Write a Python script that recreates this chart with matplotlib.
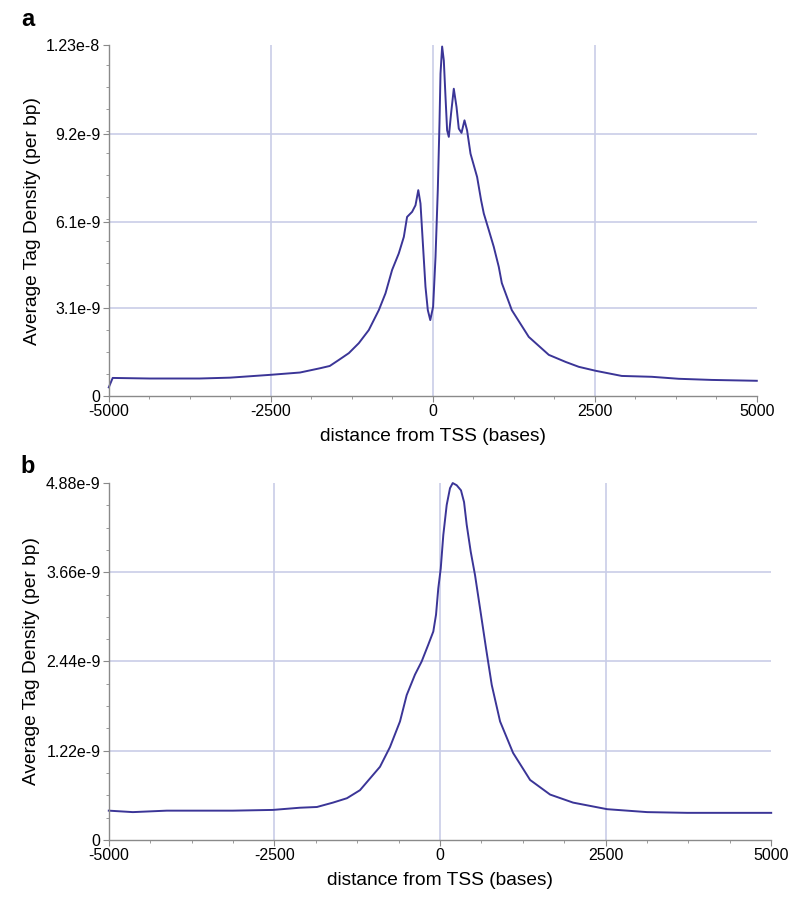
import numpy as np
import matplotlib
matplotlib.use('Agg')
import matplotlib.pyplot as plt
from matplotlib.ticker import FixedLocator, MultipleLocator

plt.rcParams['font.family'] = ['Liberation Sans', 'DejaVu Sans']

# Panel a : distance from TSS (bases) / density (x1e-9 per bp)
dist_a = [-5000, -4940, -4370, -3600, -3130, -2500, -2050, -1740, -1590, -1451,
          -1296, -1142, -988, -833, -730, -628, -525, -447, -397, -319,
          -267, -224, -190, -150, -113, -77, -39, 5, 42, 77,
          103, 119, 144, 170, 196, 221, 247, 282, 324, 366,
          401, 443, 489, 529, 582, 633, 684, 745, 787, 864,
          941, 1018, 1065, 1219, 1481, 1790, 2052, 2253, 2515, 2916,
          3379, 3796, 4305, 5000]
dens_a = [0.30, 0.63, 0.61, 0.61, 0.64, 0.74, 0.82, 0.97, 1.05, 1.26,
          1.50, 1.85, 2.31, 3.01, 3.60, 4.42, 5.00, 5.58, 6.28, 6.46,
          6.69, 7.22, 6.75, 5.23, 3.83, 3.01, 2.66, 3.13, 4.88, 7.22,
          9.56, 11.31, 12.26, 11.77, 10.49, 9.32, 9.09, 9.91, 10.78, 10.14,
          9.38, 9.23, 9.67, 9.32, 8.50, 8.09, 7.68, 6.87, 6.40, 5.82,
          5.23, 4.53, 3.96, 3.01, 2.07, 1.44, 1.19, 1.02, 0.88, 0.70,
          0.67, 0.60, 0.56, 0.53]

# Panel b
dist_b = [-5000, -4637, -4124, -3625, -3127, -2523, -2115, -1858, -1616, -1405,
          -1208, -906, -755, -604, -503, -378, -277, -177, -101, -60,
          -26, 11, 50, 101, 151, 192, 252, 317, 363, 403,
          464, 529, 604, 695, 781, 907, 1103, 1360, 1662, 2009,
          2523, 3127, 3731, 4381, 5000]
dens_b = [0.40, 0.38, 0.40, 0.40, 0.40, 0.41, 0.44, 0.45, 0.51, 0.57,
          0.68, 1.00, 1.27, 1.62, 1.98, 2.26, 2.44, 2.67, 2.85, 3.08,
          3.44, 3.71, 4.17, 4.58, 4.81, 4.88, 4.85, 4.78, 4.62, 4.31,
          3.94, 3.62, 3.17, 2.62, 2.12, 1.62, 1.19, 0.82, 0.62, 0.51,
          0.42, 0.38, 0.37, 0.37, 0.37]

yticks_a = [0, 3.1, 6.1, 9.2, 12.3]
ylabels_a = ['0', '3.1e-9', '6.1e-9', '9.2e-9', '1.23e-8']
yticks_b = [0, 1.22, 2.44, 3.66, 4.88]
ylabels_b = ['0', '1.22e-9', '2.44e-9', '3.66e-9', '4.88e-9']
xticks = [-5000, -2500, 0, 2500, 5000]

line_col = '#3b3597'
grid_col = '#c9cde8'
spine_col = '#8a8a8a'

fig = plt.figure(figsize=(8, 9.08), dpi=100)
ax_a = fig.add_axes([0.136, 0.564, 0.810, 0.386])
ax_b = fig.add_axes([0.136, 0.075, 0.828, 0.393])


def style(ax, yt, yl):
    ax.set_xlim(-5000, 5000)
    ax.set_ylim(0, yt[-1])
    ax.xaxis.set_major_locator(FixedLocator(xticks))
    ax.xaxis.set_minor_locator(MultipleLocator(625))
    ax.set_xticklabels([str(t) for t in xticks])
    ax.yaxis.set_major_locator(FixedLocator(yt))
    ax.yaxis.set_minor_locator(MultipleLocator(yt[1] / 4))
    ax.set_yticklabels(yl)
    for t in xticks[1:-1]:
        ax.axvline(t, color=grid_col, lw=1.2, zorder=0)
    for t in yt[1:-1]:
        ax.axhline(t, color=grid_col, lw=1.2, zorder=0)
    for s in ['top', 'right']:
        ax.spines[s].set_visible(False)
    for s in ['left', 'bottom']:
        ax.spines[s].set_color(spine_col)
        ax.spines[s].set_linewidth(1.0)
    ax.tick_params(which='major', direction='out', length=4, color=spine_col,
                   labelsize=11.5, pad=2)
    ax.tick_params(which='minor', direction='out', length=2.5, color=spine_col)
    ax.set_xlabel('distance from TSS (bases)', fontsize=13.8, labelpad=6)
    ax.set_ylabel('Average Tag Density (per bp)', fontsize=13.8, labelpad=4)


ax_a.plot(dist_a, dens_a, color=line_col, lw=1.4, clip_on=False,
          solid_joinstyle='round')
style(ax_a, yticks_a, ylabels_a)
ax_b.plot(dist_b, dens_b, color=line_col, lw=1.4, clip_on=False,
          solid_joinstyle='round')
style(ax_b, yticks_b, ylabels_b)

fig.text(0.026, 0.978, 'a', fontsize=17, fontweight='bold', va='center')
fig.text(0.026, 0.486, 'b', fontsize=17, fontweight='bold', va='center')

fig.savefig('out.png', dpi=100)
